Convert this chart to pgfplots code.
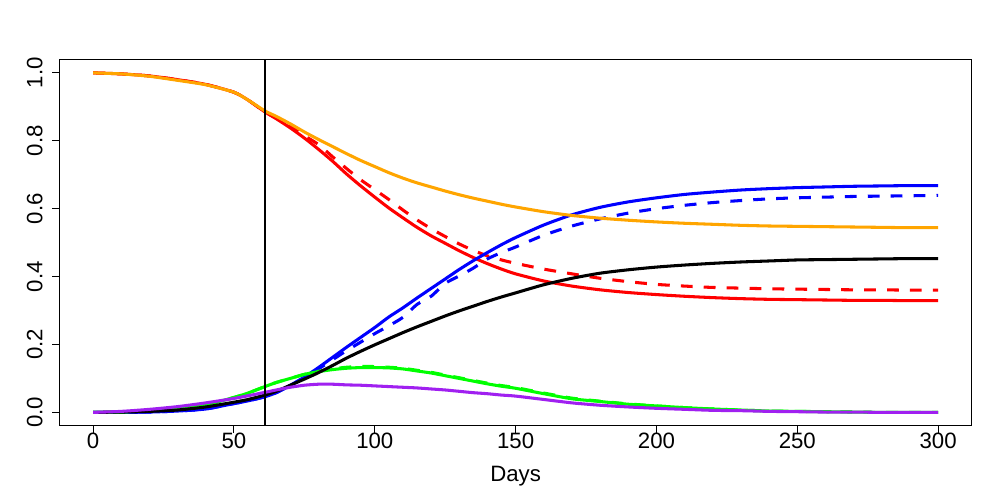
\documentclass[border=0pt]{standalone}
\usepackage{fontspec}
\setmainfont{Liberation Sans}
\usepackage{pgfplots}
\usepackage{pgfplotstable}
\pgfplotsset{compat=1.18}
\definecolor{rorange}{RGB}{255,165,0}
\definecolor{rgreen}{RGB}{0,255,0}
\definecolor{rpurple}{RGB}{160,32,240}
\definecolor{rred}{RGB}{255,0,0}
\definecolor{rblue}{RGB}{0,0,255}
\pgfplotstableread{
d S1 S1d R1 R1d I1 I1d S2 R2 I2
0 1.000 1.000 0.000 0.000 0.000 0.000 1.000 0.000 0.000
10 0.997 0.997 0.000 0.000 0.001 0.001 0.997 0.001 0.003
20 0.991 0.991 0.001 0.001 0.005 0.005 0.990 0.003 0.009
30 0.980 0.980 0.004 0.004 0.010 0.010 0.978 0.007 0.017
40 0.966 0.966 0.010 0.010 0.022 0.022 0.965 0.016 0.028
50 0.943 0.943 0.026 0.026 0.044 0.044 0.943 0.030 0.041
55 0.920 0.920 0.034 0.034 0.057 0.057 0.920 0.038 0.049
61 0.885 0.885 0.046 0.046 0.076 0.076 0.888 0.051 0.059
65 0.865 0.867 0.058 0.058 0.088 0.088 0.872 0.062 0.066
70 0.838 0.842 0.080 0.079 0.100 0.100 0.850 0.080 0.074
75 0.808 0.815 0.104 0.102 0.112 0.112 0.826 0.098 0.080
80 0.775 0.789 0.132 0.128 0.120 0.121 0.804 0.117 0.083
85 0.740 0.753 0.162 0.155 0.126 0.128 0.783 0.138 0.083
90 0.702 0.718 0.192 0.182 0.130 0.133 0.762 0.160 0.081
95 0.667 0.685 0.221 0.207 0.132 0.135 0.742 0.180 0.080
100 0.634 0.656 0.250 0.232 0.132 0.135 0.724 0.199 0.078
105 0.602 0.627 0.281 0.255 0.131 0.133 0.706 0.217 0.076
110 0.573 0.596 0.308 0.280 0.128 0.130 0.690 0.235 0.074
115 0.545 0.567 0.337 0.318 0.122 0.124 0.676 0.252 0.072
120 0.520 0.541 0.365 0.342 0.116 0.118 0.664 0.268 0.069
125 0.498 0.518 0.393 0.380 0.108 0.110 0.652 0.284 0.066
130 0.476 0.496 0.421 0.402 0.100 0.102 0.641 0.299 0.062
135 0.456 0.477 0.447 0.425 0.092 0.094 0.631 0.313 0.058
140 0.438 0.461 0.471 0.452 0.084 0.086 0.622 0.327 0.055
145 0.422 0.449 0.494 0.471 0.077 0.079 0.613 0.340 0.051
150 0.408 0.439 0.515 0.487 0.071 0.073 0.605 0.352 0.048
160 0.387 0.422 0.552 0.522 0.055 0.057 0.591 0.376 0.038
170 0.372 0.408 0.582 0.549 0.040 0.042 0.580 0.395 0.028
180 0.361 0.395 0.604 0.570 0.032 0.033 0.572 0.410 0.021
190 0.353 0.385 0.620 0.587 0.024 0.025 0.566 0.420 0.016
200 0.347 0.377 0.632 0.600 0.019 0.019 0.561 0.428 0.012
210 0.342 0.372 0.642 0.610 0.014 0.014 0.557 0.434 0.009
220 0.338 0.368 0.649 0.618 0.010 0.010 0.554 0.439 0.006
230 0.335 0.366 0.655 0.624 0.007 0.007 0.551 0.443 0.005
240 0.333 0.364 0.659 0.629 0.004 0.004 0.549 0.446 0.003
250 0.332 0.363 0.662 0.632 0.003 0.003 0.548 0.449 0.002
260 0.331 0.362 0.664 0.634 0.002 0.002 0.547 0.450 0.001
270 0.330 0.361 0.666 0.636 0.001 0.001 0.546 0.451 0.001
280 0.330 0.361 0.667 0.637 0.000 0.000 0.545 0.452 0.000
290 0.329 0.360 0.668 0.638 0.000 0.000 0.544 0.453 0.000
300 0.329 0.360 0.668 0.639 0.000 0.000 0.544 0.453 0.000
}\data
\begin{document}
\begin{tikzpicture}
\begin{axis}[
  scale only axis,
  width=657.1pt, height=264pt,
  xmin=-12, xmax=312, ymin=-0.04, ymax=1.04,
  axis line style={line width=0.75pt},
  xtick={0,50,100,150,200,250,300},
  ytick={0,0.2,0.4,0.6,0.8,1.0},
  xtick pos=bottom, ytick pos=left,
  tick align=outside,
  major tick length=5pt,
  tick style={black, line width=0.75pt},
  /pgf/number format/assume math mode=true,
  yticklabel={\pgfmathprintnumber[fixed,fixed zerofill,precision=1]{\tick}},
  ticklabel style={font=\fontsize{16pt}{19pt}\selectfont},
  yticklabel style={xshift=-6.8pt, rotate=90, anchor=south, inner sep=0pt},
  xticklabel style={anchor=north, inner sep=0pt},
  xlabel={Days},
  xlabel style={font=\fontsize{16pt}{19pt}\selectfont, at={(axis description cs:0.5,0)}, anchor=base, yshift=-40.1pt, inner sep=0pt},
  every axis plot/.append style={line width=2.2pt, smooth, tension=0.4},
  clip=true,
]
\addplot[rred] table[x=d,y=S1]{\data};
\addplot[rred, dash pattern=on 8.5pt off 8pt] table[x=d,y=S1d]{\data};
\addplot[rblue] table[x=d,y=R1]{\data};
\addplot[rblue, dash pattern=on 8.5pt off 8pt] table[x=d,y=R1d]{\data};
\addplot[rgreen] table[x=d,y=I1]{\data};
\addplot[rgreen, dash pattern=on 8.5pt off 8pt] table[x=d,y=I1d]{\data};
\addplot[rorange] table[x=d,y=S2]{\data};
\addplot[black] table[x=d,y=R2]{\data};
\addplot[rpurple] table[x=d,y=I2]{\data};
\addplot[black, line width=1.5pt, sharp plot] coordinates {(61,-0.04) (61,1.04)};
\end{axis}
\path ([xshift=-42.7pt,yshift=-53.3pt]current axis.south west) rectangle ([xshift=20.2pt,yshift=42.7pt]current axis.north east);
\end{tikzpicture}
\end{document}
